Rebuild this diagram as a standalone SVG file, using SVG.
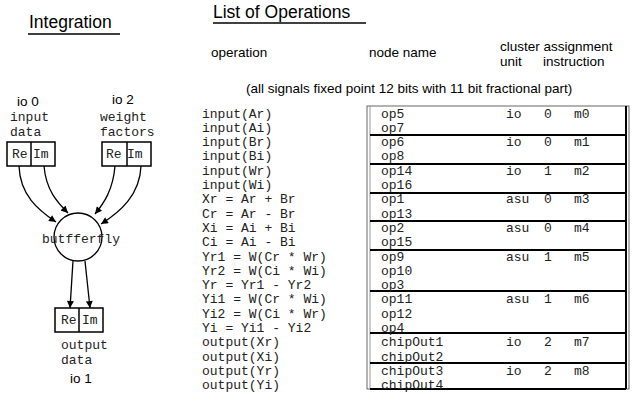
<svg xmlns="http://www.w3.org/2000/svg" width="633" height="403" viewBox="0 0 633 403">
<style>
.h{font-family:"Liberation Sans",Arial,sans-serif;font-size:17.5px;fill:#000}
.s{font-family:"Liberation Sans",Arial,sans-serif;font-size:13.5px;fill:#000}
.m{font-family:"Liberation Mono","Courier New",monospace;font-size:13px;fill:#222}
.box{fill:#fff;stroke:#000;stroke-width:1.5}
.c{fill:none;stroke:#000;stroke-width:1.3}
.sep{stroke:#000;stroke-width:2}
</style>
<defs>
<marker id="ah" viewBox="0 0 10 10" refX="10" refY="5" markerWidth="8" markerHeight="7" markerUnits="userSpaceOnUse" orient="auto">
<path d="M0,0 L10,5 L0,10 z" fill="#000"/>
</marker>
</defs>
<g id="titles">
<text class="h" x="29" y="28">Integration</text>
<line x1="28" y1="34" x2="120" y2="34" stroke="#000" stroke-width="1.3"/>
<text class="h" x="213" y="18">List of Operations</text>
<line x1="213" y1="23" x2="366" y2="23" stroke="#000" stroke-width="1.3"/>
<text class="s" x="211" y="57">operation</text>
<text class="s" x="369" y="57">node name</text>
<text class="s" x="500" y="51">cluster assignment</text>
<text class="s" x="500" y="66">unit</text>
<text class="s" x="543" y="66">instruction</text>
<text class="s" x="246" y="93">(all signals fixed point 12 bits with 11 bit fractional part)</text>
</g>
<g id="input-data">
<text class="s" x="17" y="106">io 0</text>
<text class="m" x="10" y="121">input</text>
<text class="m" x="10" y="136">data</text>
<rect class="box" x="7" y="142" width="48" height="24"/>
<line x1="31" y1="142" x2="31" y2="166" stroke="#000" stroke-width="1.5"/>
<text class="m" x="12" y="158">Re</text>
<text class="m" x="33" y="158">Im</text>
</g>
<g id="weight-factors">
<text class="s" x="112" y="104">io 2</text>
<text class="m" x="100" y="121">weight</text>
<text class="m" x="100" y="136">factors</text>
<rect class="box" x="102" y="142" width="49" height="24"/>
<line x1="127" y1="142" x2="127" y2="166" stroke="#000" stroke-width="1.5"/>
<text class="m" x="106" y="158">Re</text>
<text class="m" x="127" y="158">Im</text>
</g>
<g id="butterfly">
<circle cx="78" cy="237" r="24" fill="#fff" stroke="#000" stroke-width="1.3"/>
<text class="m" x="42" y="243">butfferfly</text>
</g>
<g id="output-data">
<rect class="box" x="55" y="308" width="48" height="24"/>
<line x1="79" y1="308" x2="79" y2="332" stroke="#000" stroke-width="1.5"/>
<text class="m" x="61" y="324">Re</text>
<text class="m" x="82" y="324">Im</text>
<text class="m" x="61" y="349">output</text>
<text class="m" x="61" y="364">data</text>
<text class="s" x="70" y="383">io 1</text>
</g>
<g id="connectors">
<path class="c" d="M19,166 C20,195 38,210 56,222" marker-end="url(#ah)"/>
<path class="c" d="M44,166 C46,190 57,202 68,213" marker-end="url(#ah)"/>
<path class="c" d="M115,166 C113,190 104,203 95,214" marker-end="url(#ah)"/>
<path class="c" d="M141,166 C140,195 120,212 101,224" marker-end="url(#ah)"/>
<path class="c" d="M73,261 L70,308" marker-end="url(#ah)"/>
<path class="c" d="M85,261 L90,308" marker-end="url(#ah)"/>
</g>
<g id="operation-list" class="m">
<text x="202" y="117.5">input(Ar)</text>
<text x="202" y="131.8">input(Ai)</text>
<text x="202" y="146.1">input(Br)</text>
<text x="202" y="160.4">input(Bi)</text>
<text x="202" y="174.7">input(Wr)</text>
<text x="202" y="189">input(Wi)</text>
<text x="202" y="203.3">Xr = Ar + Br</text>
<text x="202" y="217.6">Cr = Ar - Br</text>
<text x="202" y="231.9">Xi = Ai + Bi</text>
<text x="202" y="246.2">Ci = Ai - Bi</text>
<text x="202" y="260.5">Yr1 = W(Cr * Wr)</text>
<text x="202" y="274.8">Yr2 = W(Ci * Wi)</text>
<text x="202" y="289.1">Yr = Yr1 - Yr2</text>
<text x="202" y="303.4">Yi1 = W(Cr * Wi)</text>
<text x="202" y="317.7">Yi2 = W(Ci * Wr)</text>
<text x="202" y="332">Yi = Yi1 - Yi2</text>
<text x="202" y="346.3">output(Xr)</text>
<text x="202" y="360.6">output(Xi)</text>
<text x="202" y="374.9">output(Yr)</text>
<text x="202" y="389.2">output(Yi)</text>
</g>
<g id="assignment-table">
<rect x="367" y="106" width="262" height="283" fill="none" stroke="#666" stroke-width="1"/>
<line x1="370" y1="106" x2="370" y2="389" stroke="#999" stroke-width="1"/>
<line x1="626" y1="106" x2="626" y2="389" stroke="#000" stroke-width="2"/>
<line class="sep" x1="370" y1="135" x2="626" y2="135"/>
<line class="sep" x1="370" y1="164" x2="626" y2="164"/>
<line class="sep" x1="370" y1="193" x2="626" y2="193"/>
<line class="sep" x1="370" y1="221" x2="626" y2="221"/>
<line class="sep" x1="370" y1="250" x2="626" y2="250"/>
<line class="sep" x1="370" y1="291" x2="626" y2="291"/>
<line class="sep" x1="370" y1="333" x2="626" y2="333"/>
<line class="sep" x1="370" y1="363" x2="626" y2="363"/>
<line class="sep" x1="370" y1="389" x2="626" y2="389"/>
<g class="m">
<text x="381" y="117.5">op5</text><text x="506" y="117.5">io</text><text x="544" y="117.5">0</text><text x="574" y="117.5">m0</text>
<text x="381" y="131.8">op7</text>
<text x="381" y="146.1">op6</text><text x="506" y="146.1">io</text><text x="544" y="146.1">0</text><text x="574" y="146.1">m1</text>
<text x="381" y="160.4">op8</text>
<text x="381" y="174.7">op14</text><text x="506" y="174.7">io</text><text x="544" y="174.7">1</text><text x="574" y="174.7">m2</text>
<text x="381" y="189">op16</text>
<text x="381" y="203.3">op1</text><text x="506" y="203.3">asu</text><text x="544" y="203.3">0</text><text x="574" y="203.3">m3</text>
<text x="381" y="217.6">op13</text>
<text x="381" y="231.9">op2</text><text x="506" y="231.9">asu</text><text x="544" y="231.9">0</text><text x="574" y="231.9">m4</text>
<text x="381" y="246.2">op15</text>
<text x="381" y="260.5">op9</text><text x="506" y="260.5">asu</text><text x="544" y="260.5">1</text><text x="574" y="260.5">m5</text>
<text x="381" y="274.8">op10</text>
<text x="381" y="289.1">op3</text>
<text x="381" y="303.4">op11</text><text x="506" y="303.4">asu</text><text x="544" y="303.4">1</text><text x="574" y="303.4">m6</text>
<text x="381" y="317.7">op12</text>
<text x="381" y="332">op4</text>
<text x="381" y="346.3">chipOut1</text><text x="506" y="346.3">io</text><text x="544" y="346.3">2</text><text x="574" y="346.3">m7</text>
<text x="381" y="360.6">chipOut2</text>
<text x="381" y="374.9">chipOut3</text><text x="506" y="374.9">io</text><text x="544" y="374.9">2</text><text x="574" y="374.9">m8</text>
<text x="381" y="389.2">chipOut4</text>
</g>
</g>
</svg>
